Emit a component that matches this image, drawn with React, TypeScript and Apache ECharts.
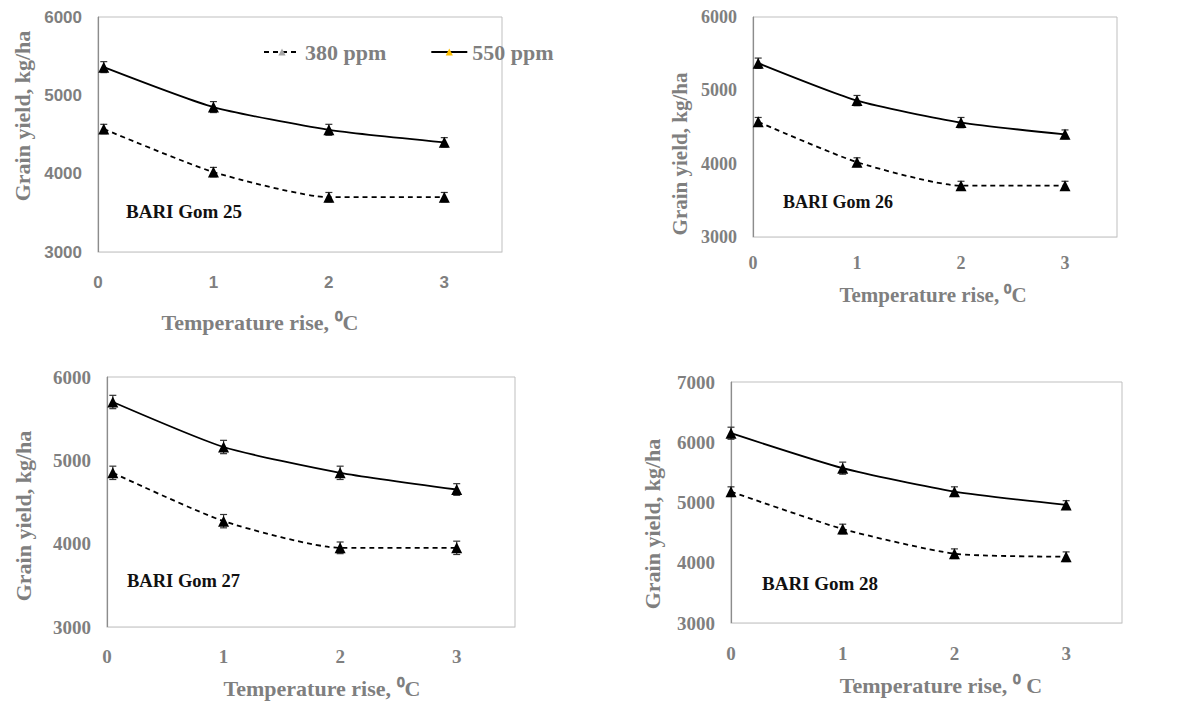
import React, { useEffect, useRef } from "react";
import * as echarts from "echarts";

// ---- data ----
const seriesNames = ["380 ppm", "550 ppm"];
const varieties = ["BARI Gom 25", "BARI Gom 26", "BARI Gom 27", "BARI Gom 28"];
const tempsA = [0.05, 1, 2, 3];
const tempsB = [0, 1, 2, 3];

const gom25_380 = [4570, 4020, 3700, 3700];
const gom25_550 = [5360, 4850, 4560, 4400];
const gom25_err380 = [60, 60, 60, 60];
const gom25_err550 = [70, 70, 70, 60];

const gom26_380 = [4570, 4020, 3700, 3700];
const gom26_550 = [5370, 4860, 4560, 4400];
const gom26_err380 = [60, 60, 60, 60];
const gom26_err550 = [70, 70, 70, 60];

const gom27_380 = [4850, 4270, 3950, 3950];
const gom27_550 = [5700, 5160, 4850, 4650];
const gom27_err380 = [80, 80, 70, 80];
const gom27_err550 = [80, 80, 80, 70];

const gom28_380 = [5180, 4560, 4150, 4100];
const gom28_550 = [6150, 5570, 5180, 4960];
const gom28_err380 = [80, 80, 80, 80];
const gom28_err550 = [100, 100, 80, 70];

const yMaxes = [6000, 6000, 6000, 7000];
const yMin = 3000;
const xMax = 3.5;

const panelData = [
  { temps: tempsA, s380: gom25_380, s550: gom25_550, e380: gom25_err380, e550: gom25_err550 },
  { temps: tempsA, s380: gom26_380, s550: gom26_550, e380: gom26_err380, e550: gom26_err550 },
  { temps: tempsA, s380: gom27_380, s550: gom27_550, e380: gom27_err380, e550: gom27_err550 },
  { temps: tempsB, s380: gom28_380, s550: gom28_550, e380: gom28_err380, e550: gom28_err550 },
];

const yTitle = "Grain yield, kg/ha";
const xTitles = [
  "Temperature rise, \u2070C",
  "Temperature rise, \u2070C",
  "Temperature rise, \u2070C",
  "Temperature rise, \u2070 C",
];

// ---- layout / style ----
const SERIF = "'Liberation Serif', 'Times New Roman', serif";
const SANS = "'Liberation Sans', Arial, sans-serif";
const GRAY = "#7f7f7f";

const layouts = [
  { left: 98, top: 17, width: 404, height: 235, tickFont: SANS, tickSize: 17, xMargin: 22, yTitle: [22, 116], xTitle: [260, 322], titleSize: 22, label: [126, 211], labelSize: 19 },
  { left: 753, top: 17, width: 364, height: 220, tickFont: SERIF, tickSize: 18, xMargin: 17, yTitle: [680, 154], xTitle: [933, 295], titleSize: 21, label: [783, 202], labelSize: 18 },
  { left: 107, top: 377, width: 408, height: 250, tickFont: SERIF, tickSize: 19, xMargin: 20, yTitle: [23, 516], xTitle: [322, 688], titleSize: 22, label: [127, 581], labelSize: 18.5 },
  { left: 731, top: 382, width: 391, height: 241, tickFont: SERIF, tickSize: 19, xMargin: 21, yTitle: [652, 524], xTitle: [941, 685], titleSize: 22, label: [762, 583], labelSize: 19 },
];

function errorRender(params: any, api: any) {
  const x = api.value(0);
  const y = api.value(1);
  const e = api.value(2);
  const hi = api.coord([x, y + e]);
  const lo = api.coord([x, y - e]);
  const cap = 3.5;
  const style = { stroke: "#333", lineWidth: 1.2 };
  return {
    type: "group",
    children: [
      { type: "line", shape: { x1: hi[0], y1: hi[1], x2: lo[0], y2: lo[1] }, style },
      { type: "line", shape: { x1: hi[0] - cap, y1: hi[1], x2: hi[0] + cap, y2: hi[1] }, style },
      { type: "line", shape: { x1: lo[0] - cap, y1: lo[1], x2: lo[0] + cap, y2: lo[1] }, style },
    ],
  };
}

function buildOption() {
  const grid: any[] = [];
  const xAxis: any[] = [];
  const yAxis: any[] = [];
  const series: any[] = [];
  const graphic: any[] = [];

  layouts.forEach((L, i) => {
    const d = panelData[i];
    grid.push({
      left: L.left, top: L.top, width: L.width, height: L.height,
      show: true, borderColor: "#bfbfbf", borderWidth: 1, backgroundColor: "transparent",
    });
    const labelStyle = { fontFamily: L.tickFont, fontWeight: "bold", fontSize: L.tickSize, color: GRAY };
    xAxis.push({
      type: "value", gridIndex: i, min: 0, max: xMax, interval: 1,
      axisLine: { show: true, lineStyle: { color: "#d9d9d9", width: 1 } },
      axisTick: { show: false },
      splitLine: { show: false },
      axisLabel: { ...labelStyle, margin: L.xMargin, formatter: (v: number) => (v > 3 ? "" : String(v)) },
    });
    yAxis.push({
      type: "value", gridIndex: i, min: yMin, max: yMaxes[i], interval: 1000,
      axisLine: { show: true, lineStyle: { color: "#8c8c8c", width: 1.2 } },
      axisTick: { show: false },
      splitLine: { show: false },
      axisLabel: { ...labelStyle, margin: 16, formatter: (v: number) => String(v) },
    });

    const pairs = [
      { name: seriesNames[0], vals: d.s380, errs: d.e380, dashed: true },
      { name: seriesNames[1], vals: d.s550, errs: d.e550, dashed: false },
    ];
    pairs.forEach((p) => {
      series.push({
        type: "custom", name: p.name + " err " + i, xAxisIndex: i, yAxisIndex: i,
        renderItem: errorRender, z: 2,
        data: d.temps.map((t, j) => [t, p.vals[j], p.errs[j]]),
        encode: { x: 0, y: 1 },
      });
      series.push({
        type: "line", name: p.name, xAxisIndex: i, yAxisIndex: i,
        data: d.temps.map((t, j) => [t, p.vals[j]]),
        smooth: 0.2,
        symbol: "triangle", symbolSize: 11,
        itemStyle: { color: "#000" },
        lineStyle: { color: "#000", width: 1.8, type: p.dashed ? [5, 4] : "solid" },
        z: 3,
      });
    });

    graphic.push({
      type: "text", x: L.yTitle[0], y: L.yTitle[1], rotation: Math.PI / 2,
      style: { text: yTitle, align: "center", verticalAlign: "middle", fontFamily: SERIF, fontWeight: "bold", fontSize: L.titleSize, fill: GRAY },
    });
    graphic.push({
      type: "text", x: L.xTitle[0], y: L.xTitle[1],
      style: { text: xTitles[i], align: "center", verticalAlign: "middle", fontFamily: SERIF, fontWeight: "bold", fontSize: L.titleSize, fill: GRAY },
    });
    graphic.push({
      type: "text", x: L.label[0], y: L.label[1],
      style: { text: varieties[i], align: "left", verticalAlign: "middle", fontFamily: SERIF, fontWeight: "bold", fontSize: L.labelSize, fill: "#111" },
    });
  });

  return {
    animation: false,
    backgroundColor: "#fff",
    grid, xAxis, yAxis, series, graphic,
    legend: {
      left: 258, top: 36, itemWidth: 36, itemHeight: 9, itemGap: 44, selectedMode: false,
      data: [
        { name: seriesNames[0], itemStyle: { color: "#a6a6a6" } },
        { name: seriesNames[1], itemStyle: { color: "#ffc000" } },
      ],
      textStyle: { fontFamily: SERIF, fontWeight: "bold", fontSize: 22, color: GRAY },
    },
  };
}

export default function App() {
  const ref = useRef<HTMLDivElement>(null);
  useEffect(() => {
    if (!ref.current) return;
    const chart = echarts.init(ref.current, undefined, { renderer: "svg" });
    chart.setOption(buildOption() as any);
    return () => chart.dispose();
  }, []);
  return (
    <div
      ref={ref}
      style={{ position: "fixed", left: 0, top: 0, width: 1192, height: 702, background: "#fff" }}
    />
  );
}
